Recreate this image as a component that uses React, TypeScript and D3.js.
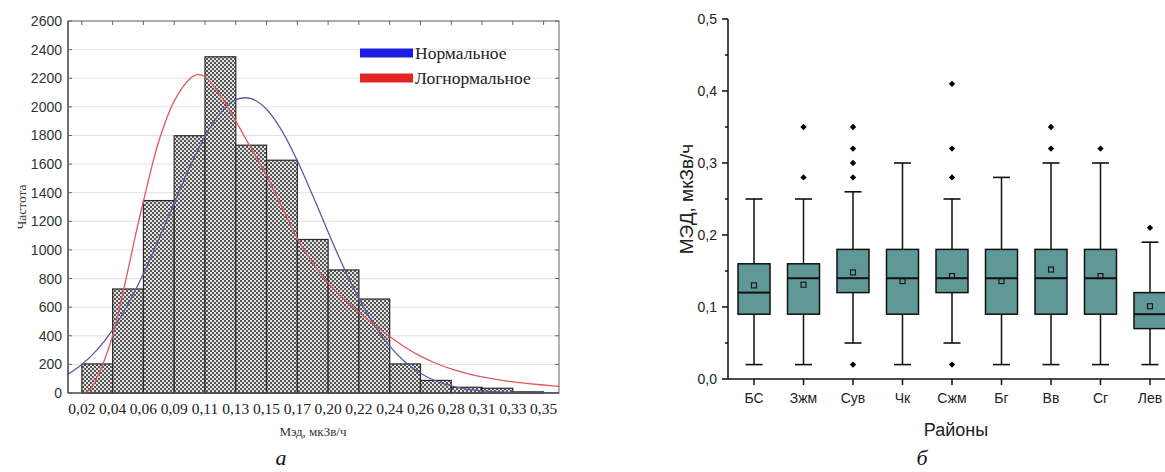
import React from "react";
import * as d3 from "d3";

// ---------- Left chart (histogram) ----------
const binLabels = ["0,02", "0,04", "0,06", "0,09", "0,11", "0,13", "0,15", "0,17", "0,20", "0,22", "0,24", "0,26", "0,28", "0,31", "0,33", "0,35"];
const frequencies = [203, 727, 1345, 1798, 2350, 1732, 1627, 1073, 860, 657, 203, 88, 40, 33, 8];
const yTicksLeft = [0, 200, 400, 600, 800, 1000, 1200, 1400, 1600, 1800, 2000, 2200, 2400, 2600];

// fitted curves (x in bin-edge index units)
const normalX = [-0.45, 0, 0.5, 1, 1.5, 2, 2.5, 3, 3.5, 4, 4.5, 5, 5.5, 6, 6.5, 7, 7.5, 8, 8.5, 9, 9.5, 10, 10.5, 11, 11.5, 12, 12.5, 13, 13.5, 14, 14.5, 15, 15.5];
const normalY = [131, 199, 303, 442, 620, 833, 1075, 1328, 1576, 1794, 1958, 2050, 2058, 1983, 1832, 1623, 1380, 1125, 880, 660, 475, 328, 217, 138, 84, 49, 27, 15, 8, 4, 2, 1, 1];
const lognormX = [0.05, 0.25, 0.5, 0.75, 1, 1.25, 1.5, 1.75, 2, 2.5, 3, 3.5, 3.75, 4, 4.5, 5, 5.5, 6, 6.5, 7, 7.5, 8, 8.5, 9, 9.5, 10, 10.5, 11, 11.5, 12, 12.5, 13, 13.5, 14, 14.5, 15, 15.5];
const lognormY = [0, 20, 110, 240, 400, 620, 860, 1110, 1340, 1760, 2040, 2195, 2225, 2210, 2080, 1900, 1710, 1520, 1300, 1080, 910, 770, 660, 565, 475, 395, 320, 258, 208, 168, 137, 112, 93, 78, 66, 56, 47];
const legendLabels = ["Нормальное", "Логнормальное"];
const legendColors = ["#1c1ce0", "#e42424"];

// ---------- Right chart (box plots) ----------
const districts = ["БС", "Зжм", "Сув", "Чк", "Сжм", "Бг", "Вв", "Сг", "Лев"];
const whiskerLow = [0.02, 0.02, 0.05, 0.02, 0.05, 0.02, 0.02, 0.02, 0.02];
const q1 = [0.09, 0.09, 0.12, 0.09, 0.12, 0.09, 0.09, 0.09, 0.07];
const medians = [0.12, 0.14, 0.14, 0.14, 0.14, 0.14, 0.14, 0.14, 0.09];
const q3 = [0.16, 0.16, 0.18, 0.18, 0.18, 0.18, 0.18, 0.18, 0.12];
const whiskerHigh = [0.25, 0.25, 0.26, 0.30, 0.25, 0.28, 0.30, 0.30, 0.19];
const means = [0.13, 0.131, 0.148, 0.136, 0.143, 0.136, 0.152, 0.143, 0.101];
const outliers = [[], [0.28, 0.35], [0.02, 0.28, 0.30, 0.32, 0.35], [], [0.02, 0.28, 0.32, 0.41], [], [0.32, 0.35], [0.32], [0.21]];
const yTicksRight = [0, 0.1, 0.2, 0.3, 0.4, 0.5];
const yMinorRight = [0.05, 0.15, 0.25, 0.35, 0.45];

export default function App() {
  // left scales
  const xL = d3.scaleLinear().domain([-0.45, 15.5]).range([68, 559]);
  const yL = d3.scaleLinear().domain([0, 2600]).range([393, 21]);
  const lineL = d3
    .line<[number, number]>()
    .x((d) => xL(d[0]))
    .y((d) => yL(d[1]))
    .curve(d3.curveCatmullRom.alpha(0.5));
  const normalPts: [number, number][] = normalX.map((x, i) => [x, normalY[i]]);
  const lognormPts: [number, number][] = lognormX.map((x, i) => [x, lognormY[i]]);

  // right scales
  const xR = d3.scaleLinear().domain([0, 8]).range([754, 1150]);
  const yR = d3.scaleLinear().domain([0, 0.5]).range([379, 19]);
  const boxW = 32;
  const capW = 17;
  const teal = "#5f9896";
  const sans = "Liberation Sans, Arial, sans-serif";
  const serif = "Liberation Serif, Times New Roman, serif";
  const fmt = (v: number) => v.toFixed(1).replace(".", ",");

  return (
    <svg
      width={1165}
      height={472}
      style={{ position: "absolute", left: 0, top: 0, background: "#fff" }}
    >
      <defs>
        <pattern id="checker" width="4" height="4" patternUnits="userSpaceOnUse">
          <rect x={0} y={0} width={4} height={4} fill="#e2e2e2" />
          <rect x={0} y={0} width={2} height={2} fill="#555" />
          <rect x={2} y={2} width={2} height={2} fill="#555" />
        </pattern>
      </defs>

      {/* ================= LEFT CHART ================= */}
      {yTicksLeft.map((t) => (
        <line key={"g" + t} x1={68} x2={559} y1={yL(t)} y2={yL(t)} stroke="#e2e2e2" strokeWidth={1} />
      ))}
      {frequencies.map((f, i) => (
        <rect
          key={"b" + i}
          x={xL(i)}
          y={yL(f)}
          width={xL(i + 1) - xL(i)}
          height={yL(0) - yL(f)}
          fill="url(#checker)"
          stroke="#2a2a2a"
          strokeWidth={1.2}
        />
      ))}
      <path d={lineL(normalPts) || ""} fill="none" stroke="#5a5ca6" strokeWidth={1.3} />
      <path d={lineL(lognormPts) || ""} fill="none" stroke="#e05a5a" strokeWidth={1.3} />
      <rect x={68} y={21} width={559 - 68} height={393 - 21} fill="none" stroke="#666" strokeWidth={1} />
      <line x1={68} x2={68} y1={21} y2={393} stroke="#444" strokeWidth={1.2} />
      <line x1={68} x2={559} y1={393} y2={393} stroke="#444" strokeWidth={1.2} />
      {binLabels.map((_, i) => (
        <line key={"tt" + i} x1={xL(i)} x2={xL(i)} y1={21} y2={25} stroke="#666" strokeWidth={1} />
      ))}
      {yTicksLeft.map((t) => (
        <g key={"rt" + t}>
          <line x1={555} x2={559} y1={yL(t)} y2={yL(t)} stroke="#666" strokeWidth={1} />
          <line x1={68} x2={72} y1={yL(t)} y2={yL(t)} stroke="#666" strokeWidth={1} />
        </g>
      ))}
      {yTicksLeft.map((t) => (
        <text key={"yl" + t} x={62} y={yL(t) + 5} textAnchor="end" fontFamily={sans} fontSize={14} fill="#333">
          {t}
        </text>
      ))}
      {binLabels.map((l, i) => (
        <text key={"xl" + i} x={xL(i)} y={414} textAnchor="middle" fontFamily={serif} fontSize={15.5} fill="#222">
          {l}
        </text>
      ))}
      <text x={313} y={436} textAnchor="middle" fontFamily={serif} fontSize={13} fill="#333">
        Мэд, мкЗв/ч
      </text>
      <text
        transform="translate(26,207) rotate(-90)"
        textAnchor="middle"
        fontFamily={serif}
        fontSize={13.5}
        fill="#333"
      >
        Частота
      </text>
      {legendLabels.map((l, i) => (
        <g key={"lg" + i}>
          <rect x={360} y={48.5 + i * 25} width={53} height={9} fill={legendColors[i]} />
          <text x={415} y={59 + i * 24.5} fontFamily={serif} fontSize={17.5} fill="#222">
            {l}
          </text>
        </g>
      ))}
      <text x={281} y={465} textAnchor="middle" fontFamily={serif} fontStyle="italic" fontSize={22} fill="#111">
        а
      </text>

      {/* ================= RIGHT CHART ================= */}
      {districts.map((d, i) => {
        const cx = xR(i);
        return (
          <g key={"bx" + i}>
            <line x1={cx} x2={cx} y1={yR(whiskerHigh[i])} y2={yR(q3[i])} stroke="#111" strokeWidth={1.5} />
            <line x1={cx} x2={cx} y1={yR(q1[i])} y2={yR(whiskerLow[i])} stroke="#111" strokeWidth={1.5} />
            <line x1={cx - capW / 2} x2={cx + capW / 2} y1={yR(whiskerHigh[i])} y2={yR(whiskerHigh[i])} stroke="#111" strokeWidth={1.6} />
            <line x1={cx - capW / 2} x2={cx + capW / 2} y1={yR(whiskerLow[i])} y2={yR(whiskerLow[i])} stroke="#111" strokeWidth={1.6} />
            <rect
              x={cx - boxW / 2}
              y={yR(q3[i])}
              width={boxW}
              height={yR(q1[i]) - yR(q3[i])}
              fill={teal}
              stroke="#111"
              strokeWidth={1.5}
            />
            <line x1={cx - boxW / 2} x2={cx + boxW / 2} y1={yR(medians[i])} y2={yR(medians[i])} stroke="#111" strokeWidth={2} />
            <rect x={cx - 2.5} y={yR(means[i]) - 2.5} width={5} height={5} fill="none" stroke="#111" strokeWidth={1.1} />
            {outliers[i].map((o, k) => (
              <path
                key={"o" + k}
                d={d3.symbol().type(d3.symbolSquare).size(20)() || ""}
                transform={`translate(${cx},${yR(o)}) rotate(45)`}
                fill="#000"
              />
            ))}
          </g>
        );
      })}
      <line x1={728} x2={728} y1={19} y2={379} stroke="#111" strokeWidth={1.5} />
      <line x1={728} x2={1165} y1={379} y2={379} stroke="#111" strokeWidth={1.5} />
      {yTicksRight.map((t) => (
        <g key={"yr" + t}>
          <line x1={722} x2={728} y1={yR(t)} y2={yR(t)} stroke="#111" strokeWidth={1.5} />
          <text x={717} y={yR(t) + 5} textAnchor="end" fontFamily={sans} fontSize={14} fill="#222">
            {fmt(t)}
          </text>
        </g>
      ))}
      {yMinorRight.map((t) => (
        <line key={"ym" + t} x1={725} x2={728} y1={yR(t)} y2={yR(t)} stroke="#111" strokeWidth={1.5} />
      ))}
      {districts.map((d, i) => (
        <g key={"xt" + i}>
          <line x1={xR(i)} x2={xR(i)} y1={379} y2={385} stroke="#111" strokeWidth={1.5} />
          <text x={xR(i)} y={403} textAnchor="middle" fontFamily={sans} fontSize={14} fill="#222">
            {d}
          </text>
        </g>
      ))}
      <text x={956} y={436} textAnchor="middle" fontFamily={sans} fontSize={18} fill="#222">
        Районы
      </text>
      <text
        transform="translate(693,199) rotate(-90)"
        textAnchor="middle"
        fontFamily={sans}
        fontSize={19}
        fill="#222"
      >
        МЭД, мкЗв/ч
      </text>
      <text x={922} y={465} textAnchor="middle" fontFamily={serif} fontStyle="italic" fontSize={22} fill="#111">
        б
      </text>
    </svg>
  );
}
